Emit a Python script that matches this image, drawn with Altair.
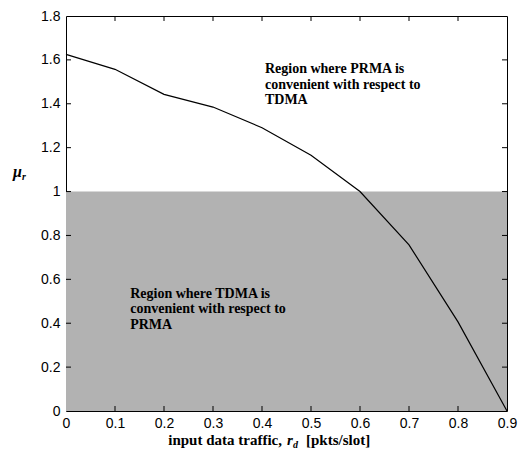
import altair as alt
import pandas as pd

# ---- data ----
x_traffic = [0.0, 0.1, 0.2, 0.3, 0.4, 0.5, 0.6, 0.7, 0.8, 0.9]
mu_r = [1.625, 1.557, 1.443, 1.385, 1.291, 1.165, 1.0, 0.757, 0.406, 0.0]
x_ticks = [0, 0.1, 0.2, 0.3, 0.4, 0.5, 0.6, 0.7, 0.8, 0.9]
y_ticks = [0, 0.2, 0.4, 0.6, 0.8, 1.0, 1.2, 1.4, 1.6, 1.8]
threshold = 1.0
region_text = ["Region where PRMA is\nconvenient with respect to\nTDMA",
               "Region where TDMA is\nconvenient with respect to\nPRMA"]
region_x = [0.406, 0.131]
region_y = [1.59, 0.567]

W, H = 441, 395
SERIF = "'Liberation Serif', 'Times New Roman', Times, serif"

curve = pd.DataFrame({"x": x_traffic, "y": mu_r})
shade = pd.DataFrame({"x": [x_ticks[0]], "x2": [x_ticks[-1]], "y": [0.0], "y2": [threshold]})
notes = pd.DataFrame({"x": region_x, "y": region_y, "t": region_text})
xt = pd.DataFrame({"v": x_ticks[1:-1]})
yt = pd.DataFrame({"v": y_ticks[1:-1]})

xscale = alt.Scale(domain=[0, 0.9], nice=False, zero=False)
yscale = alt.Scale(domain=[0, 1.8], nice=False, zero=False)

xaxis = alt.Axis(values=x_ticks, title=None, ticks=False, domain=False, grid=False,
                 format="~g",
                 labelFont="Liberation Sans", labelFontSize=14, labelColor="black",
                 labelPadding=5, labelFlush=False, labelOverlap=False)
yaxis = alt.Axis(values=y_ticks, title=None, ticks=False, domain=False, grid=False,
                 format="~g",
                 labelFont="Liberation Sans", labelFontSize=14, labelColor="black",
                 labelPadding=6, labelFlush=False, labelOverlap=False)

base_rect = alt.Chart(shade).mark_rect(color="#b2b2b2").encode(
    x=alt.X("x:Q", scale=xscale, axis=xaxis),
    x2="x2:Q",
    y=alt.Y("y:Q", scale=yscale, axis=yaxis),
    y2="y2:Q",
)

line = alt.Chart(curve).mark_line(color="black", strokeWidth=1.2).encode(
    x=alt.X("x:Q", scale=xscale),
    y=alt.Y("y:Q", scale=yscale),
)

texts = alt.Chart(notes).mark_text(
    font=SERIF, fontWeight="bold", fontSize=14, align="left",
    baseline="top", lineBreak="\n", lineHeight=15.5, color="black"
).encode(
    x=alt.X("x:Q", scale=xscale),
    y=alt.Y("y:Q", scale=yscale),
    text="t:N",
)

tick_top = alt.Chart(xt).mark_rule(color="black").encode(
    x=alt.X("v:Q", scale=xscale), y=alt.value(0), y2=alt.value(5))
tick_bot = alt.Chart(xt).mark_rule(color="black").encode(
    x=alt.X("v:Q", scale=xscale), y=alt.value(H - 5), y2=alt.value(H))
tick_left = alt.Chart(yt).mark_rule(color="black").encode(
    y=alt.Y("v:Q", scale=yscale), x=alt.value(0), x2=alt.value(5))
tick_right = alt.Chart(yt).mark_rule(color="black").encode(
    y=alt.Y("v:Q", scale=yscale), x=alt.value(W - 5), x2=alt.value(W))

one = pd.DataFrame({"a": [0]})

def label(txt, px, py, size=15, style="normal", weight="bold", align="left", baseline="alphabetic"):
    return alt.Chart(one).mark_text(
        text=txt, font=SERIF, fontSize=size, fontStyle=style,
        fontWeight=weight, align=align, baseline=baseline, color="black"
    ).encode(x=alt.value(px), y=alt.value(py))

# x title pieces (absolute page coords minus padding)
TY = 445 - 16
xt1 = label("input data traffic,", 282 - 66, TY, align="right")
xt2 = label("r", 287 - 66, TY, style="italic")
xt3 = label("d", 293 - 66, TY + 3, size=10, style="italic")
xt4 = label("[pkts/slot]", 306 - 66, TY)
# y title
yt1 = label("\u03bc", 13 - 66, 177 - 16, size=16, style="italic")
yt2 = label("r", 22 - 66, 180 - 16, size=10, style="italic")

chart = alt.layer(
    base_rect, line, texts, tick_top, tick_bot, tick_left, tick_right,
    xt1, xt2, xt3, xt4, yt1, yt2
).properties(
    width=W, height=H,
    autosize=alt.AutoSizeParams(type="none"),
    padding={"left": 66, "top": 16, "right": 18, "bottom": 44},
    background="white",
).configure_view(stroke="black", strokeWidth=1)

chart.save("out.html", embed_options={"renderer": "svg", "actions": False})
